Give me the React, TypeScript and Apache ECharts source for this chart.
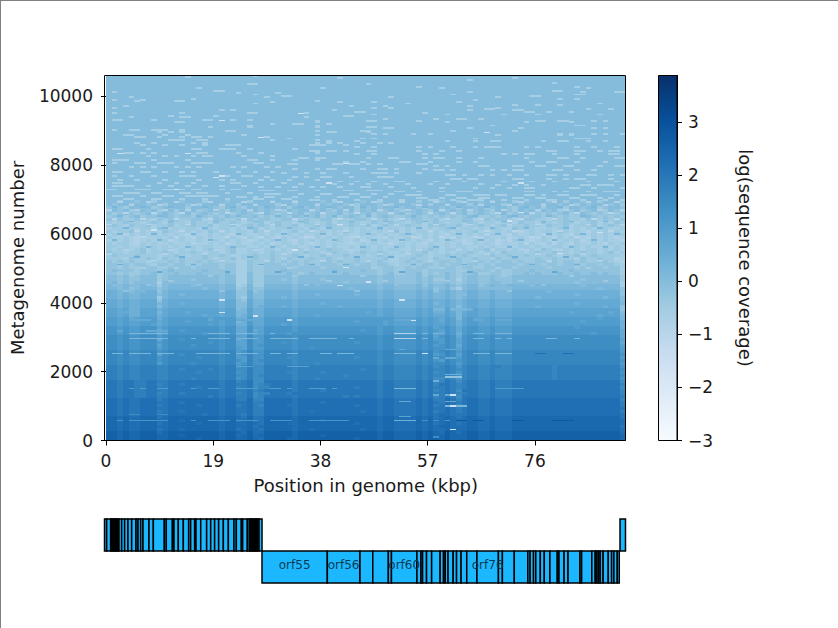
import React, { useEffect, useRef } from "react";
import * as echarts from "echarts";

const FONT = "DejaVu Sans";
const TEXT = "#1a1a1a";
const X_MAX = 92.05;
const Y_MAX = 10610;
const C_MIN = -3;
const C_MAX = 3.877;
const xTicks = [0, 19, 38, 57, 76];
const yTicks = [0, 2000, 4000, 6000, 8000, 10000];
const cTicks = [-3, -2, -1, 0, 1, 2, 3];
const blues = ["#f7fbff", "#deebf7", "#c6dbef", "#9ecae1", "#6baed6", "#4292c6", "#2171b5", "#08519c", "#08306b"];

// log coverage for each letter of the rows below
const levelLetters = "abcdefghijklmnopqrstuvwxyz";
const levelValues = [-2, -1.8, -1.6, -1.4, -1.2, -1, -0.8, -0.6, -0.4, -0.2, 0, 0.2, 0.4, 0.6, 0.8, 1, 1.2, 1.4, 1.6, 1.8, 2, 2.2, 2.4, 2.6, 2.8, 3];

const TOP_BLOCK_FLOOR = 6991;
const topBlockLevel = "k";
// one letter per 1 kbp column, rows run from metagenome 6991 down to 0
const heatRows = [
  "kkikkjkkik kkkjkkkikk kjkkkikkkj kkkikkkkjk ikkkkjkkik kkjkkikkkj kkikkkjkik kkikjkkkjk kikkjkkikk kj",
  "kjkkikkjkk ikkkjkikkk jkkikkjkkk ikkjkkkikj kkjkikkkjk ikkkjkkikk jkkkikjkkk ikkjkkkikk jkkikjkkkj ki",
  "jkjikkjkij kjkkikkjkj ikkjikkjkk jkikkjkjki kjkkikjkjk kijkkjikkj kjikkjkijk kjikkjkikk jikkjkkijk kj",
  "ikjkijkjki jkikjkijkk jikjkikjkj kikjkkijkj ikjkikjkij kjikjkjiki jkjkijkjik kjikjkikjk ikjkijkjik ji",
  "jijkjijkij kjijkijkji jkijkjijkj ijkjkijkij jkijkjkijj ijkijkjijk jijkijkjij kijjkijiji jkijkjijij ij",
  "ijjijkijji kjijjikjij ikjijjkiji jjikjijkij jijkjijijk jiijkjijij ijijkjiiji jkijijjihj ijiijkjiji ji",
  "jijiijjihj ijjiijjhij jiijhjijji ijjhijiijj hjiijjijij ihjijjiijh jiijjhijij jihijjiihj ijiihjjiji ij",
  "ihijiihiji hjiihjiihj iijihiijhi jiihijihij hiijihijih jiihijhiji hiihjihiih iihjiihjih ijihiijhih ji",
  "ijihjiijhi ijhiijiijh iijhijijih jiijhiijij ihijiijhij ihijiihjij iijhiijihi jhiijiihji ijhiiijhij ih",
  "hiihihiihj ihihiihjih iihihijhih iihiihjihi iihihihijh iihihihihi jihiihihii hhjihihhih iihihihiih hi",
  "ihiijhihih jihiihihji hihiihjihi ihijhiihih ihjihiihih ijhihiihih ihihijhihi hihghihiih jihihgihih ih",
  "hihgihihih ihihgihhih ihghihhihi hgihihhigh ihihhigihi hhigihihih gihhihigih hgihhihgih ihgihhihih hi",
  "ihhihgihhi hihihgihih hhihgihhih gihihhgihi hihgihihhg ihhihgihih hgihhigihh ighihhgihg ihihhgihih gh",
  "hihihghihh ighihhihgi hihihghihi hihgihihih gihhighihi hhgihihgih hihghihhig hgihhghihg hihighihih hg",
  "ihiihgihih hihhigihih ighihhihig hiihihghih iihghihihi ghihihgihh ihighihihg ihhigihhig ihgihhihgi hi",
  "iihihhihih ihihhihiih hihiihhihi ihiihhihih ihhihiihih hiihihhiih ihiihhihih hihiihihhi ihiihihhih ih",
  "ihiihijhih iihihihiji hijhhiihii hihiihihij iihihiihih iihhihijih iihihiijhi ihihiihjih iihihiihih ih",
  "jiihiijhii jihiijihii hijhhiihij iihiijiihi jiihijiiji hhihiijhih ihiijihiih jiiihijiij iihijiihij hi",
  "ijiiijiiih iijihiijii jihhiijiij iiijihiiji iijiiihiji ihhiijihii jiijihiiji ijiijiiiji hiijiijiii ih",
  "iiihjiijih jiijiiijih iijhiijiij ihjiiijiij ihiijiiiij hhiijiihji iijiijiihj iijiiijiij iiihjiijii gh",
  "jijijiihji ijijiijiji jiihhjiijj ijijijiijj ijiijijiji hhijijiiij jijiijjiji jjijiijjij ijjijiijji hg",
  "jjijijjihj jijjijijjj ijjhhjiijj jijjijjijj jijjijjijj ihiijijjij ijjijjijij jjjijjjijj ijjjijjijj ih",
  "jjijiijjji ijjjjijjjj ijjhhjiijj jjjijjjjij jjjjjjjiij jiijijjiij jjijjiijjj jjijjjjjij jjjijjjjij jh",
  "jkjjjijjji jkjjjjjkjj jjjhhjiijj jkjjjjjjjj kjjjjkjjij jiijjjijjj jjiijjjjij iijjjkjjjj jjkjjjjjjj jh",
  "jjijiijjki jjkjjjkjjj jkjhhkiijj jjkjijkjjj jjkjjjjjij kiijjkijij kjijjkiijj iijjkjkjjj kjjkjjkjkj jh",
  "kkjkjjkkki jkkkkkkkkk jkkhhkiikk kkkjkkkkkk kkkkkkkkjk kjjjjkjkjj kjijkkjjkj jjkkkkkkkk kkkkkkkkkk ki",
  "kkjkjjkkki jkkkkjkkkk jkkhhkiikk kjkjkkkkjk kkkkkkkkjk kjjjjkjkii kjhjkkjjkj jjkkkkkkkk kkkkjkkkkk ki",
  "kljkjkkkkh kkkkkkkkkk jkkhhkiikk kkkjkkkkkk kkjkkkkkjk kjjjjkjkjj kjijkkjjkk jjkkkkkkkk kkkjkkkkkk kh",
  "lkklkkllki kllllkllll kllhiliill lllklllkll llllllllkl lkkkkljlkk lkjklljklk kllllkllll llllklllll lh",
  "llkljklllj kllllllkll kllijljjll lllkllllll lllkllllkl lkkkklkljk ljhkllkkkk kkllllllll lllllllkll lj",
  "mmlmkllmmj lmmmmmmmmm lmmjjmjkmm mmmlmmmmmm mmmmmmmmlm mllllmlmkl mlklmmllml llmmmmmmlm mmmmmmmmmm mj",
  "mmlmllmmmk lmmlmmmmmm lmmjjmkkmm mmmlmmmlmm mmmmlmmmlm mllllmlmll mlkkmmllml llmmmmmmmm mmmlmmmmmm mj",
  "mmlmllmmmi lmmmmmmmmm lmmjimkkmm mlmlmmmmmm mmmmmmmmlm mllllmlmll mlklmmllml llmmmmlmmm mmmmmmmmlm mk",
  "nnmnmmnnnj mnnnnnnnnn mnnkjnllnn nnnmnnnnnn nnnnnnnnmn nmmmmnmnmm nmlmnnmmnm mmnnnnnnnn nnnnnnnnnn nk",
  "nnmnmmnnnl mnnmnnnnnn mnnkknllnn nnnmnnnnmn nnnnnnnnmn nmmmmnmnlm nmlmnnmmnm mmnnnnnnnn nnnmnnnnnn nl",
  "nnmnmmnnnk mnnnnnnnnn mnnkknlmnn nmnmnnnnnn nmnnnnnnmn nmmmmnmnmm nmkmnnmmnm mmnnnnmnnn nnnnnnnnmn nj",
  "oonommooom nooooooooo nooklommoo ooonoooooo oooooooono onnnnonoll olllmonnon nnoooooooo oooooooooo oj",
  "oonnmmoool nooonooooo noollommoo ooonoooooo oooooonono onnnnonomm onlnoonnon nnoooooooo oonoooooon ok",
  "oonommooom noooooonoo noolmommoo ooonooonoo oooooooono onnnnononn onlnoonnon nnoooooooo ooooooonoo ol",
  "ppopnopppm opppppppop pppmmpnnpp pppopppppp pppppppppp poooopopon polopooopo oopppppppp pppppppopp pl",
  "ppopoopppn opppoppppp opplmpnnpp pppopppppp ppppoppppo poooopopon pomoppoopo oopppppppp ppppoppppp pm",
  "ppopooppon opppppppop oppmmpnnpp popopppppp pppppppppo poooopopoo pomoppoopo oopppppppp pppppppppp pm",
  "qqpqppqqqo pqqqqqqqqq pqqnnqooqq qqqpqqqqqq qqqqqqqqpq qppppqpqop qpnpqqppqp ppqqqqqqqq qqqpqqqqqq qm",
  "qqpqppqqqm pqqpqqqqqq pqqnnqnoqq qqqpqqqqqq qqqqqpqqpq qppppqpqpo qpnpqqppqp ppqqqqqqqq qqqqqqqqqq qn",
  "qqpqppqqqn pqqqqqqpqq pqqnnqooqq qqpqqqqqqq qqqqqqqqpq qppppqpqon qpmpqqppqp ppqqqqqqqq qqqqqqpqqq qn",
  "rrqrqqrrrp qrrrrrrrrr qrroorpprr rrrqrrrrrr rrrrrrrrqr rqqqqrqroq rqnqrrqqrq qqrrrrrrrr rrrrrrrrrr rn",
  "rrqrqqrrrn qrrqrrrrrr qrrnorpprr rrrqrrrrrr rrrrrrrrqr rqqqqrqrpp rqoqrrqqrq qqrrrrrrrr rrrrrrrrrr ro",
  "rrqrqqrrrp qrrrrrrrqr qrroorpprr rqrqrrrrrr rrrrqrrrqr rqqqqrqrqp rqoqrrqqrq qqrrrrrrrr rrrrrrrrrr rn",
  "rrqrqqrrro qrrrrqrrrr qrroorpqrr rrrqrrrrrr rrrrrrrrqr rqqqqrqrpq rqnqrrqqrq qqrrrrrrrr rrrrrrrrrr ro",
  "rrqrqqrrrp qrrrrrrrrr qrrporpprr rrrqrrqrrr rrrrrrrrqr rqqqqrqrqq rqoqrrqqrq qqrrrrrrrr rrrrrrrrrr rp",
  "ssrsrrsssq rsssssssss rsspqsqqss sssrssssss ssssssssrs srrrrsrsqr srprssrrsr rrssssssss ssssssssss sp",
  "ssrsrrssso rssrssssss rsspqsqqss sssrssssss ssssssssrs srrrrsrspq srorssrrsr rrssssssss ssssssssss sq",
  "ssrsrrsssq rsssssrsss rssppsqqss ssrrssssss ssssrsssrs srrrrsrsrr srprssrrsr rrssssssss ssssssssss sp",
  "ssrsrrsssq rsssssssss rssqpsqrss sssrssssss ssssssssrs srrrrsrsqp srqrssrrsr rrssssssss ssssssssss sq",
  "ssrsrrsssp rssssrssss rsspqsqqss sssrsssrss ssssssssrs srrrrsrsrr srprssrrsr rrssssssss ssssssssss sp",
  "ttstssttts sttttttttt sttqrtrrtt tttstttttt ttttttttst tsssststrs tsqsttsstt ssttttttts tttttttttt tq",
  "ttstssttts sttsttttst sttrrtrrtt tttstttttt tttttsttst tsssststss tsrsttssts ssttttttts tttttttttt tr",
  "ttstssttts stttttsttt sttqrtrrtt ttssttttst ttttttttst tsssststrs tsqsttssts ssttttttts tttttttttt tq",
  "ttstssttts sttttttttt sttrrtrstt tttstttttt ttstttttst tsssststss tsrsttssts ssttttttts tttttttttt tr",
  "ttstssttts sttttstttt sttqrtrrtt tttstttstt ttttttttst tsssststrr tsqsttssts ssttttttts tttttttttt tq",
  "uutuuttuut tuuuuuuuuu tuusturruu uuutuuuuuu uuuuuuuutu uttttutuss utrtuuttut ttuuuuuuuu uuuuuuuuuu ur",
  "uutuuttuus tuutuuuuuu tuutturstu uuutuuuuuu uuuuuuuutu uttttutusu utstuuttut ttuuuuuuuu uuuuuuuuuu us",
  "uutuuttuut tuuuuutuuu tuusturssu uuutuuuuuu uuuutuuutu uttttututt utstuuttut ttuuuuuuuu uuuuuuuuuu ur",
  "uutuuttuut tuuuuuuuuu tuuttustuu uuutuuuutu uuuuuuuutu uttttutust utruuuttut ttuuuuuuuu uuuuuuuuuu us",
  "uutuuttuus tuutuuuuuu tuusturssu uutuuuuuuu uuuuuuuutu uttttututt utstuuttut ttuuuuuuuu uuuuuuuuuu us",
  "uutuuttuut tuuuuuuutu tuuttursuu uuutuuuuuu uututuuutu uttttutust utruuuttut ttuuuuuuuu uuuuuuuuuu ut",
  "vvuvuuvvvt uvvvvvvvvv uvvttvssvv vvvuvvvvvv vvvvvvvvuv vuuuuvuvtt vusuvvuuvu uuvvvvvvvv vvvvvvvvvv vs",
  "vvuvuuvvvu uvvuvvvvvv uvvuuvttvv vvvuvvvvuv vvvvvvvvuv vuuuuvuvut vutuvvuuvu uuvvvvvvvv vvvvvvvvvv vt",
  "vvuvuuvvvt uvvvvvuvvv uvvtuvtsvv vvuuvvvvvv vvvvuvvvuv vuuuuvuvtu vusuvvuuvu uuvvvvvvvv vvvvvvvvvv vt",
  "vvuvuuvvvu uvvvvvvvvv uvvuuvttvv vvvuvvvvvv vvvvvvvvuv vuuuuvuvuu vutuvvuuvu uuvvvvvvvv vvvvvvvvvv vu",
  "vvuvuuvvvt uvvuvvvvvv uvvuuvttvv vvvuvvuvvv vvvvvuvvuv vuuuuvuvtu vutuvvuuvu uuvvvvvvvv vvvvvvvvvv vt",
  "vvuvuuvvvu uvvvvvvuvv uvvutvttvv vvvuvvvvvv vvvvvvvvuv vuuuuvuvuv vuuuvvuuvu uuvvvvvvvv vvvvvvvvvv vu",
  "wwvwvvwwwu vwwwwwwwww vwwvuwuuww wwwvwwwwww wwwwwwwwvw wvvvvwvwuv wvuvwwvvwv vvwwwwwwww wwwwwwwwww wu",
  "wwvwvvwwwv vwwvwwwwww vwwuvwuuww wwwvwwwwvw wwwwwwwwvw wvvvvwvwvv wvvvwwvvwv vvwwwwwwww wwwwwwwwww wv",
  "wwvwvvwwwu vwwwwwvwww vwwvvwvuww wwvvwwwwww wwwwvwwwvw wvvvvwvwuv wvuvwwvvwv vvwwwwwwww wwwwwwwwww wv",
  "wwvwvvwwwv vwwwwwwwww vwwvvwuvww wwwvwwwwww wwwwwwwwvw wvvvvwvwvw wvvvwwvvwv vvwwwwwwww wwwwwwwwww wu",
  "wwvwvvwwwu vwwvwwwwww vwwuvwvuww wwwvwwvwww wwwwwvwwvw wvvvvwvwvv wvvvwwvvwv vvwwwwwwww wwwwwwwwww wv",
  "xxwxwwxxxv wxxxxxxxxx wxxwvxvvxx xxxwxxxxxx xxxxxxxxwx xwwwwxwxwv xwvwxxwwxw wwxxxxxxxx xxxxxxxxxx xv",
  "xxwxwwxxxw wxxwxxxxxx wxxvwxvwxx xxxwxxxxwx xxxxxxxxwx xwwwwxwxww xwwwxxwwxw wwxxxxxxxx xxxxxxxxxx xw",
  "xxwxwwxxxw wxxxxxwxxx wxxwwxwvxx xxwwxxxxxx xxxxwxxxwx xwwwwxwxxw xwwwxxwwxw wwxxxxxxxx xxxxxxxxxx xw",
];

// [metagenome, columns...] of the pale dashes on the upper part of the map
const speckleRows = [
  [10570, 26], [10530, 14], [10500, 41, 72], [10450, 64], [10370, 79],
  [10340, 25, 26, 46], [10260, 55, 83], [10220, 38, 16, 59, 85],
  [10140, 19, 20, 79, 80], [10100, 64, 84, 90, 91, 1], [10070, 23, 30],
  [10030, 26, 61, 83, 84], [9990, 31, 32, 75, 76], [9950, 28, 4, 50, 69],
  [9900, 15, 80, 83], [9870, 1, 6, 65], [9840, 5, 12, 13, 37],
  [9800, 29, 41, 62, 47], [9770, 87, 53, 26], [9730, 80, 72, 76], [9700, 3, 64, 49, 43],
  [9640, 1, 47, 50, 69], [9610, 85, 89, 67, 68],
  [9570, 20, 22, 40, 64, 72, 73], [9530, 74, 75, 78, 82, 44, 45],
  [9490, 1, 13, 25, 26, 35, 56], [9450, 60, 70, 47, 76, 87],
  [9410, 11, 19, 42, 43], [9370, 13, 14, 4, 35], [9330, 58, 62, 63, 66, 49],
  [9290, 1, 2, 8, 17, 18, 22, 25], [9260, 37, 55, 47, 46, 76, 77, 80, 81, 88, 86],
  [9220, 12, 13, 37, 60, 74, 82], [9170, 29, 33, 39, 34], [9130, 25, 83, 84, 68, 37],
  [9090, 18, 25, 37, 46, 47], [9050, 49, 50, 64, 73, 86, 88],
  [9010, 1, 4, 5, 8, 9, 10, 13], [8970, 21, 22, 37, 61, 72, 45, 46],
  [8930, 9, 11, 13, 39, 40, 46], [8890, 80, 82, 54, 57, 47, 49, 91, 86, 88],
  [8850, 3, 4, 10, 14, 24, 69, 37, 80, 82],
  [8790, 5, 6, 9, 13, 15, 16, 18, 28], [8750, 32, 83, 84, 85, 65, 45, 47],
  [8710, 11, 12, 13, 16, 17, 29, 37], [8670, 39, 44, 65, 68, 69, 60, 80, 81, 85, 88, 77],
  [8630, 5, 8, 15, 17, 37, 39, 41, 45, 48, 50],
  [8560, 6, 10, 13, 17, 21, 22, 23, 36, 37, 38, 42], [8510, 44, 47, 55, 57, 61, 65, 67, 68, 69, 74, 76, 83, 86, 90],
  [8450, 1, 2, 7, 15, 16, 20, 21, 22, 25, 33], [8400, 36, 37, 39, 40, 42, 46, 47, 55, 59, 62, 78, 79, 83, 84, 87, 89, 90],
  [8340, 3, 4, 6, 8, 16, 17, 23, 27, 37], [8290, 44, 47, 56, 58, 70, 72, 74, 75, 79, 83, 89, 90],
  [8240, 7, 10, 12, 15, 17, 18, 24, 29], [8190, 34, 35, 37, 38, 46, 50, 51, 56, 58, 59, 62, 66, 74, 80, 81, 84, 90, 91],
  [8130, 1, 2, 3, 8, 14, 25, 26, 29, 33, 37], [8080, 42, 45, 52, 53, 57, 62, 65, 75, 78, 79, 83, 88],
  [8040, 1, 5, 6, 9, 10, 11, 15, 16, 17, 18, 26, 27], [8000, 32, 33, 40, 41, 43, 44, 46, 48, 55, 56],
  [7960, 58, 60, 66, 67, 72, 73, 76, 77, 81, 82, 87, 90, 91],
  [7910, 4, 6, 8, 12, 14, 16, 22, 24, 28, 30], [7870, 33, 37, 39, 40, 45, 48, 49, 51, 56], [7830, 58, 59, 61, 68, 70, 72, 73, 79, 80, 83, 86],
  [7780, 1, 2, 6, 7, 10, 13, 15, 19, 23, 26, 29], [7740, 31, 35, 38, 42, 47, 48, 49, 51, 55], [7700, 60, 61, 63, 66, 68, 71, 74, 78, 79, 81, 85, 86, 89, 91],
  [7660, 1, 4, 8, 13, 14, 15, 21, 24, 25], [7620, 28, 33, 35, 38, 39, 43, 48, 49, 50], [7580, 61, 62, 64, 65, 72, 73, 78, 81, 83, 84, 89],
  [7540, 2, 5, 10, 16, 20, 22, 27, 29, 32, 37], [7500, 41, 44, 47, 51, 52, 58, 63, 70, 75, 79, 85, 90],
  [7460, 1, 2, 9, 12, 15, 22, 23, 26, 31], [7420, 34, 40, 43, 46, 49, 53, 57, 60, 66], [7400, 69, 72, 74, 77, 84, 85, 87, 88, 89],
  [7360, 1, 2, 3, 4, 7, 11, 14, 17, 20, 24], [7330, 27, 30, 33, 36, 38, 41, 45, 46, 50], [7300, 54, 59, 65, 68, 71, 74, 75, 82, 83, 86, 91],
  [7270, 0, 1, 5, 6, 7, 10, 11, 13, 15, 16, 20, 22, 23], [7240, 27, 28, 29, 32, 33, 37, 42, 43, 46, 47, 48], [7210, 51, 52, 55, 59, 62, 63, 64, 74, 75, 79, 81, 85, 88, 89, 90],
  [7170, 3, 4, 5, 8, 9, 13, 14, 16, 17, 21, 25], [7140, 28, 29, 30, 34, 38, 39, 43, 44, 47, 50], [7110, 53, 54, 55, 60, 61, 65, 66, 67, 69, 70, 74, 75, 77, 80, 81, 84, 85, 86, 90],
  [7080, 1, 2, 6, 10, 11, 14, 15, 16, 17, 18, 19], [7050, 23, 24, 26, 28, 29, 33, 37, 41, 42, 45, 46, 49], [7020, 55, 56, 59, 62, 63, 66, 67, 72, 73, 76, 77, 82, 83, 87, 89],
  [6990, 3, 4, 8, 9, 13, 17, 21, 26, 27, 31, 32], [6960, 36, 37, 40, 44, 48, 52, 57, 58, 61, 64, 65, 66, 70, 74, 78, 79, 84, 88, 91],
];
// [metagenome, level letter, columns...] of the light and dark dashes in the pale belt
const midDashes = [
  [6900, "g", 2, 7, 12, 18, 24, 29, 33, 41, 47, 52, 58, 63, 68, 73, 79, 85, 90],
  [6830, "g", 4, 9, 15, 20, 26, 31, 37, 43, 49, 55, 60, 66, 71, 77, 82, 88],
  [6760, "l", 1, 6, 11, 17, 22, 28, 34, 39, 45, 51, 56, 62, 67, 74, 80, 86],
  [6680, "g", 0, 5, 10, 14, 19, 25, 30, 36, 42, 48, 53, 59, 64, 70, 76, 81, 87, 91],
  [6590, "f", 3, 8, 13, 21, 27, 32, 38, 44, 50, 57, 61, 69, 75, 83, 89],
  [6510, "l", 2, 9, 16, 23, 30, 35, 40, 46, 54, 65, 72, 78, 84],
  [6420, "f", 1, 6, 12, 18, 24, 33, 41, 47, 52, 60, 66, 73, 79, 86, 90],
  [6340, "l", 4, 11, 19, 26, 34, 43, 49, 56, 63, 70, 77, 82, 88],
  [6250, "f", 0, 7, 14, 22, 29, 37, 45, 51, 58, 64, 71, 76, 85, 91],
  [6160, "l", 3, 10, 17, 25, 32, 39, 48, 55, 61, 68, 74, 81, 87],
  [6070, "f", 5, 13, 20, 28, 36, 42, 50, 57, 67, 72, 80, 89],
  [5980, "l", 2, 8, 15, 23, 31, 38, 46, 53, 62, 69, 78, 84, 90],
  [5880, "f", 6, 12, 21, 27, 35, 44, 54, 59, 65, 75, 83],
  [5790, "l", 1, 9, 18, 30, 40, 47, 52, 60, 66, 73, 79, 86],
  [5700, "g", 4, 16, 24, 33, 41, 49, 56, 64, 70, 77, 85],
  [5600, "l", 7, 14, 22, 29, 37, 45, 51, 58, 71, 82, 88],
  [5500, "g", 3, 11, 19, 26, 35, 43, 55, 62, 68, 74, 80],
  [5400, "g", 0, 10, 17, 31, 39, 48, 53, 67, 76, 84],
  [5300, "m", 5, 13, 25, 34, 44, 50, 61, 72, 81],
  [5200, "g", 8, 20, 28, 38, 46, 57, 65, 78, 87],
  [5090, "m", 2, 15, 27, 36, 42, 54, 63, 75, 83],
  [4980, "h", 6, 12, 23, 32, 47, 59, 69, 85],
  [4860, "n", 9, 21, 30, 40, 52, 64, 79],
  [4750, "i", 4, 18, 33, 45, 56, 70, 82],
  [4620, "i", 11, 26, 39, 49, 60, 73, 88],
  [4480, "j", 7, 16, 35, 51, 66, 77],
  [4320, "j", 3, 20, 44, 58, 71],
];
// [metagenome, column] of the near-white dashes
const brightSpeckles = [
  [9490, 34], [9290, 20], [8930, 67], [8790, 27], [8330, 2], [8330, 14], [8040, 42],
  [7670, 20], [7620, 19], [7470, 39], [7470, 73], [7280, 12], [6600, 73], [6361, 71], [6260, 41],
  [6100, 8], [6020, 87], [5520, 33], [5420, 80], [5000, 42], [4590, 46], [4490, 41], [4065, 20],
  [4065, 52], [3697, 20], [3600, 26], [3484, 32], [3474, 54], [2515, 56], [1303, 61],
  [984, 61], [305, 61],
];
// [metagenome, level letter, [startColumn, endColumn, ...]] for the long horizontal streaks
const lineSpans = [
  [3164, "n", [2, 3, 7, 11]],
  [3086, "l", [4, 6, 6, 11, 18, 22, 23, 25, 25, 27, 29, 30, 56, 57, 58, 59, 65, 67, 69, 72]],
  [3086, "g", [51, 55]],
  [2941, "l", [4, 6, 6, 9, 9, 11, 15, 16, 18, 22, 23, 25, 25, 27, 29, 34, 36, 39, 39, 41, 43, 44, 56, 57, 65, 67, 69, 70, 71, 72, 78, 80, 83, 84]],
  [2941, "g", [51, 55]],
  [3484, "n", [4, 6, 6, 8, 18, 19, 23, 27, 32, 33, 51, 55, 65, 67, 69, 72]],
  [2631, "n", [52, 53, 60, 62]],
  [2515, "l", [1, 3, 4, 6, 6, 8, 9, 12, 16, 22, 23, 25, 25, 27, 29, 31, 32, 34, 38, 40, 41, 44, 51, 55, 56, 57, 65, 68, 69, 72]],
  [2515, "v", [76, 78, 81, 83]],
  [2380, "n", [58, 59, 60, 62]],
  [2127, "o", [23, 26, 32, 36]],
  [1904, "m", [60, 63]],
  [1827, "j", [60, 63]],
  [1710, "m", [58, 59]],
  [1488, "p", [4, 5, 6, 7, 9, 11, 15, 16, 18, 20, 23, 25, 25, 27, 29, 31, 32, 33, 36, 39, 40, 41, 69, 72, 72, 74]],
  [1488, "l", [51, 55]],
  [1303, "n", [58, 59, 60, 62]],
  [1110, "n", [52, 54, 60, 62]],
  [984, "l", [60, 64]],
  [741, "r", [4, 6, 9, 11]],
  [680, "o", [52, 54]],
  [567, "q", [2, 3, 4, 6, 6, 11, 15, 16, 18, 22, 23, 25, 25, 27, 29, 33, 36, 43, 56, 57, 58, 59, 60, 61]],
  [567, "m", [51, 55]],
  [567, "y", [62, 64, 65, 67, 72, 74, 79, 83]],
  [82, "r", [58, 59]],
];
const DASH_HEIGHT = 55;
const STREAK_HEIGHT = 40;

// gene boundaries in kbp
const topGeneEdges = [0, 0.38, 1.09, 1.3, 1.5, 1.7, 1.9, 2.1, 2.3, 2.56, 3.03, 3.56, 4.15, 4.8, 5.57, 5.92, 6.39, 6.8, 7.86, 8.63, 10.57, 10.92, 12, 12.28, 13.04, 13.93, 14.87, 15.22, 15.93, 16.17, 17, 18.05, 18.76, 19.46, 20.17, 21, 21.88, 22.88, 23.29, 24.18, 24.41, 25.24, 25.6, 25.8, 26, 26.2, 26.4, 26.6, 26.8, 27, 27.3, 27.83];
const endGeneEdges = [91.08, 92.05];
const bottomGeneEdges = [27.83, 39.37, 45.14, 47.4, 50.15, 50.7, 55.2, 55.9, 56.2, 56.9, 57.8, 59.3, 59.9, 60.2, 60.7, 61.6, 62.2, 63, 64, 65.8, 69.6, 70.3, 72.4, 74.8, 75.2, 75.8, 76.2, 77, 77.7, 78.7, 80, 80.3, 81.2, 81.9, 84, 84.3, 86.1, 86.7, 87, 87.3, 87.6, 88.1, 89, 89.6, 90, 90.6, 90.95];
const orfNames = ["orf55", "orf56", "orf60", "orf76"];
const orfCentres = [33.6, 42.25, 52.95, 67.7];

const levelOf = (letter: string) => levelValues[levelLetters.indexOf(letter)];

function buildHeatCells() {
  const cells: number[][] = [[0, X_MAX, TOP_BLOCK_FLOOR, Y_MAX, levelOf(topBlockLevel)]];
  const step = TOP_BLOCK_FLOOR / heatRows.length;
  heatRows.forEach((row, r) => {
    const letters = row.split(" ").join("");
    for (let c = 0; c < 92; c++) {
      const letter = letters[c] ?? letters[letters.length - 1];
      cells.push([c, c === 91 ? X_MAX : c + 1, TOP_BLOCK_FLOOR - (r + 1) * step, TOP_BLOCK_FLOOR - r * step, levelOf(letter)]);
    }
  });
  speckleRows.forEach(([meta, ...cols]) => {
    cols.forEach((c) => cells.push([c, c + 1, meta, meta + DASH_HEIGHT, levelOf("h")]));
  });
  midDashes.forEach(([meta, letter, ...cols]: any) => {
    cols.forEach((c: number) => cells.push([c, c + 1, meta, meta + DASH_HEIGHT, levelOf(letter)]));
  });
  lineSpans.forEach(([meta, letter, spans]: any) => {
    for (let i = 0; i < spans.length; i += 2) {
      cells.push([spans[i], spans[i + 1], meta, meta + STREAK_HEIGHT, levelOf(letter)]);
    }
  });
  brightSpeckles.forEach(([meta, c]) => cells.push([c, c + 1, meta, meta + STREAK_HEIGHT, levelOf("c")]));
  return cells;
}

function buildGenes() {
  const genes: number[][] = [];
  const add = (edges: number[], track: number) => {
    for (let i = 0; i + 1 < edges.length; i++) genes.push([edges[i], edges[i + 1], track, track + 1]);
  };
  add(topGeneEdges, 1);
  add(endGeneEdges, 1);
  add(bottomGeneEdges, 0);
  return genes;
}

function buildOption() {
  const tickText = { color: TEXT, fontFamily: FONT, fontSize: 17 };
  const nameText = { color: TEXT, fontFamily: FONT, fontSize: 18 };
  const line = { lineStyle: { color: "#000", width: 1 } };
  const frame = (x: number, y: number, width: number, height: number) => ({
    type: "rect",
    silent: true,
    z: 100,
    shape: { x, y, width, height },
    style: { fill: "none", stroke: "#000", lineWidth: 1 },
  });
  return {
    animation: false,
    backgroundColor: "#fff",
    textStyle: { fontFamily: FONT },
    grid: [
      { left: 104.5, top: 75.5, width: 521, height: 365 },
      { left: 104.5, top: 519, width: 521, height: 64 },
      { left: 658.5, top: 75.5, width: 18.5, height: 365 },
    ],
    xAxis: [
      {
        gridIndex: 0,
        type: "value",
        min: 0,
        max: X_MAX,
        name: "Position in genome (kbp)",
        nameLocation: "middle",
        nameGap: 36,
        nameTextStyle: nameText,
        axisLine: { show: true, onZero: false, ...line },
        axisTick: { show: true, length: 5, customValues: xTicks, ...line },
        axisLabel: { ...tickText, margin: 12, customValues: xTicks, formatter: (v: number) => String(v) },
        splitLine: { show: false },
      },
      { gridIndex: 1, type: "value", min: 0, max: X_MAX, show: false },
      { gridIndex: 2, type: "value", min: 0, max: 1, show: false },
    ],
    yAxis: [
      {
        gridIndex: 0,
        type: "value",
        min: 0,
        max: Y_MAX,
        name: "Metagenome number",
        nameLocation: "middle",
        nameGap: 80,
        nameTextStyle: nameText,
        axisLine: { show: true, onZero: false, ...line },
        axisTick: { show: true, length: 5, customValues: yTicks, ...line },
        axisLabel: { ...tickText, margin: 13, customValues: yTicks, formatter: (v: number) => String(v) },
        splitLine: { show: false },
      },
      { gridIndex: 1, type: "value", min: 0, max: 2, show: false },
      {
        gridIndex: 2,
        type: "value",
        position: "right",
        min: C_MIN,
        max: C_MAX,
        name: "log(sequence coverage)",
        nameLocation: "middle",
        nameRotate: -90,
        nameGap: 59,
        nameTextStyle: nameText,
        axisLine: { show: true, onZero: false, ...line },
        axisTick: { show: true, length: 5, customValues: cTicks, ...line },
        axisLabel: {
          ...tickText,
          margin: 11,
          customValues: cTicks,
          formatter: (v: number) => String(v).replace("-", "\u2212"),
        },
        splitLine: { show: false },
      },
    ],
    visualMap: {
      show: false,
      type: "continuous",
      min: C_MIN,
      max: C_MAX,
      dimension: 4,
      seriesIndex: 0,
      inRange: { color: blues },
    },
    series: [
      {
        type: "custom",
        name: "coverage",
        xAxisIndex: 0,
        yAxisIndex: 0,
        silent: true,
        clip: true,
        dimensions: ["x0", "x1", "y0", "y1", "v"],
        encode: { x: [0, 1], y: [2, 3] },
        data: buildHeatCells(),
        renderItem: (_p: any, api: any) => {
          const a = api.coord([api.value(0), api.value(3)]);
          const b = api.coord([api.value(1), api.value(2)]);
          const x = Math.round(a[0]);
          const y = Math.round(a[1]);
          return {
            type: "rect",
            shape: {
              x,
              y,
              width: Math.max(1, Math.round(b[0]) - x),
              height: Math.max(1, Math.round(b[1]) - y),
            },
            style: { fill: api.visual("color") },
          };
        },
      },
      {
        type: "custom",
        name: "genes",
        xAxisIndex: 1,
        yAxisIndex: 1,
        silent: true,
        clip: false,
        encode: { x: [0, 1], y: [2, 3] },
        data: buildGenes(),
        renderItem: (_p: any, api: any) => {
          const a = api.coord([api.value(0), api.value(3)]);
          const b = api.coord([api.value(1), api.value(2)]);
          return {
            type: "rect",
            shape: { x: a[0], y: a[1], width: b[0] - a[0], height: b[1] - a[1] },
            style: { fill: "#1cb8ff", stroke: "#000", lineWidth: 1.5 },
          };
        },
      },
      {
        type: "custom",
        name: "orf labels",
        xAxisIndex: 1,
        yAxisIndex: 1,
        silent: true,
        clip: false,
        z: 5,
        encode: { x: 0, y: 1 },
        data: orfCentres.map((c) => [c, 0.55]),
        renderItem: (p: any, api: any) => {
          const pos = api.coord([api.value(0), api.value(1)]);
          return {
            type: "text",
            style: {
              x: pos[0],
              y: pos[1],
              text: orfNames[p.dataIndex],
              fill: "#0a3a55",
              fontFamily: FONT,
              fontSize: 12,
              textAlign: "center",
              textVerticalAlign: "middle",
            },
          };
        },
      },
      {
        type: "custom",
        name: "colour bar",
        xAxisIndex: 2,
        yAxisIndex: 2,
        silent: true,
        encode: { x: [0, 1], y: [2, 3] },
        data: [[0, 1, C_MIN, C_MAX]],
        renderItem: (_p: any, api: any) => {
          const a = api.coord([api.value(0), api.value(3)]);
          const b = api.coord([api.value(1), api.value(2)]);
          return {
            type: "rect",
            shape: { x: a[0], y: a[1], width: b[0] - a[0], height: b[1] - a[1] },
            style: {
              fill: new echarts.graphic.LinearGradient(
                0,
                1,
                0,
                0,
                blues.map((color, i) => ({ offset: i / (blues.length - 1), color }))
              ),
            },
          };
        },
      },
    ],
    graphic: [
      frame(104.5, 75.5, 521, 365),
      frame(658.5, 75.5, 18.5, 365),
      { type: "rect", silent: true, shape: { x: 0, y: 0, width: 838, height: 1 }, style: { fill: "#808080" } },
      { type: "rect", silent: true, shape: { x: 0, y: 0, width: 1, height: 628 }, style: { fill: "#808080" } },
    ],
  };
}

export default function App() {
  const ref = useRef<HTMLDivElement>(null);
  useEffect(() => {
    document.body.style.margin = "0";
    const chart = echarts.init(ref.current!, undefined, { renderer: "svg" });
    chart.setOption(buildOption() as any);
    return () => chart.dispose();
  }, []);
  return <div ref={ref} style={{ width: 838, height: 628 }} />;
}
